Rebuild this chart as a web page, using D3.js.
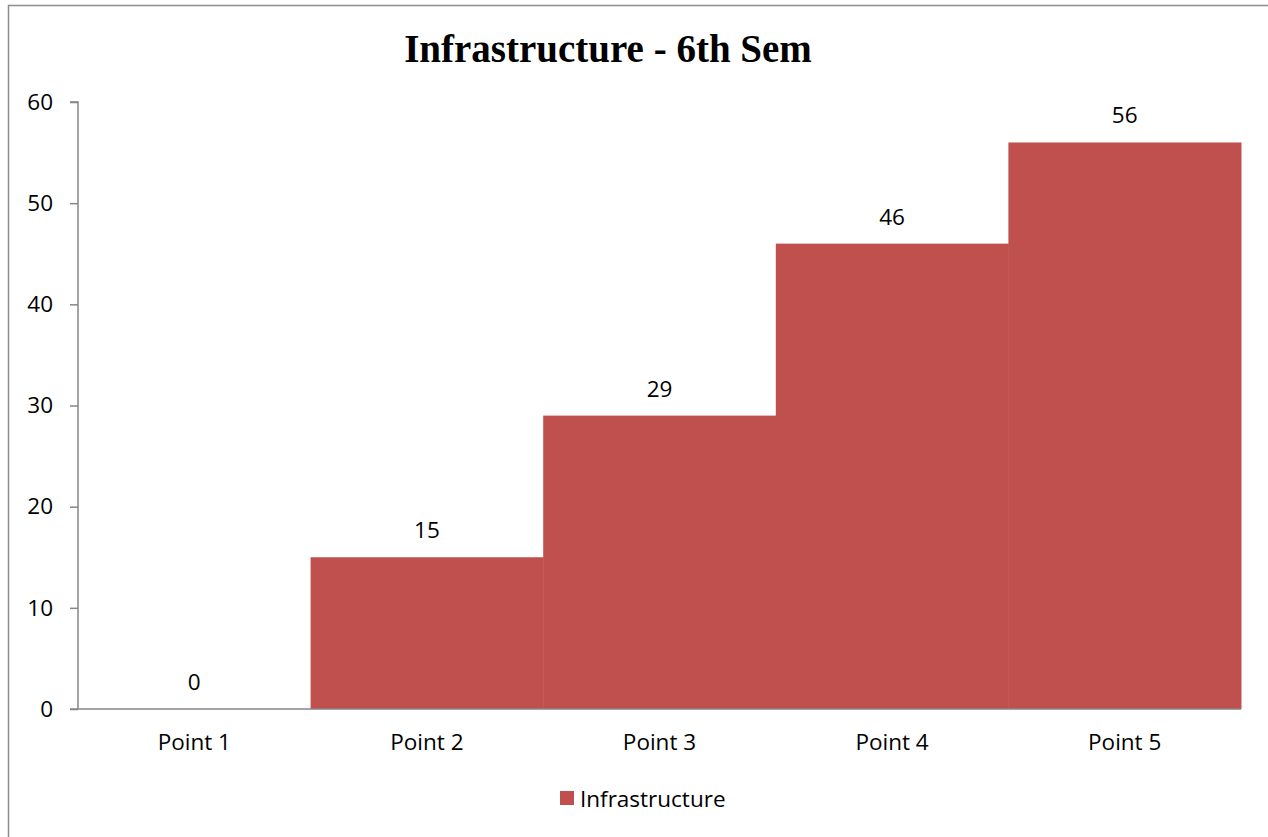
<!DOCTYPE html>
<html><head><meta charset="utf-8">
<script src="https://cdn.jsdelivr.net/npm/d3@7"></script>
<style>
html,body{margin:0;padding:0;background:#fff;overflow:hidden}
</style></head>
<body><svg id="c" width="1268" height="837"></svg>
<script>
const categories = ["Point 1","Point 2","Point 3","Point 4","Point 5"];
const values = [0,15,29,46,56];
const yTicks = [0,10,20,30,40,50,60];
const seriesName = "Infrastructure";
const title = "Infrastructure - 6th Sem";

const svg = d3.select("#c");
const labelFont = "'Open Sans', Lato, sans-serif";
const fs = 22.5;
const axisColor = "#868686";
const barColor = "#C0504D";

// outer border
svg.append("rect").attr("x",8.5).attr("y",5.5).attr("width",1300).attr("height",900)
  .attr("fill","none").attr("stroke","#8c8c8c").attr("stroke-width",1.5);

const m = {left:78, right:1241, top:102, bottom:709};
const x = d3.scaleBand().domain(categories).range([m.left,m.right]).padding(0);
const y = d3.scaleLinear().domain([0,60]).range([m.bottom,m.top]);

// bars
svg.append("g").selectAll("rect").data(values).join("rect")
  .attr("x",(d,i)=>x(categories[i]))
  .attr("width",x.bandwidth()+0.5)
  .attr("y",d=>y(d))
  .attr("height",d=>y(0)-y(d))
  .attr("fill",barColor);

// y axis
const ya = svg.append("g").attr("transform",`translate(${m.left},0)`)
  .call(d3.axisLeft(y).tickValues(yTicks).tickSize(8).tickPadding(17).tickFormat(d3.format("d")));
ya.select(".domain").attr("stroke",axisColor).attr("stroke-width",1.5).attr("d",`M-8,${m.top}H0V${m.bottom}`);
ya.selectAll(".tick line").attr("stroke",axisColor).attr("stroke-width",1.5);
ya.selectAll(".tick text").attr("font-family",labelFont).attr("font-size",fs).attr("fill","#000");

// x axis
const xa = svg.append("g").attr("transform",`translate(0,${m.bottom})`)
  .call(d3.axisBottom(x).tickSize(0).tickPadding(25));
xa.select(".domain").attr("stroke",axisColor).attr("stroke-width",1.5).attr("d",`M${m.left-8},0H${m.right}`);
xa.selectAll(".tick text").attr("font-family",labelFont).attr("font-size",fs).attr("fill","#000");

// data labels
svg.append("g").selectAll("text").data(values).join("text")
  .attr("x",(d,i)=>x(categories[i])+x.bandwidth()/2)
  .attr("y",d=>y(d)-19)
  .attr("text-anchor","middle")
  .attr("font-family",labelFont).attr("font-size",fs).attr("fill","#000")
  .text(d=>d);

// title
svg.append("text").attr("x",608).attr("y",62).attr("text-anchor","middle")
  .attr("font-family","'Liberation Serif', 'DejaVu Serif', serif").attr("font-weight","bold")
  .attr("font-size",39).attr("fill","#000").text(title);

// legend
const lg = svg.append("g");
lg.append("rect").attr("x",560).attr("y",791).attr("width",14).attr("height",14).attr("fill",barColor);
lg.append("text").attr("x",580).attr("y",807).attr("font-family",labelFont).attr("font-size",fs).attr("fill","#000").text(seriesName);
</script></body></html>
